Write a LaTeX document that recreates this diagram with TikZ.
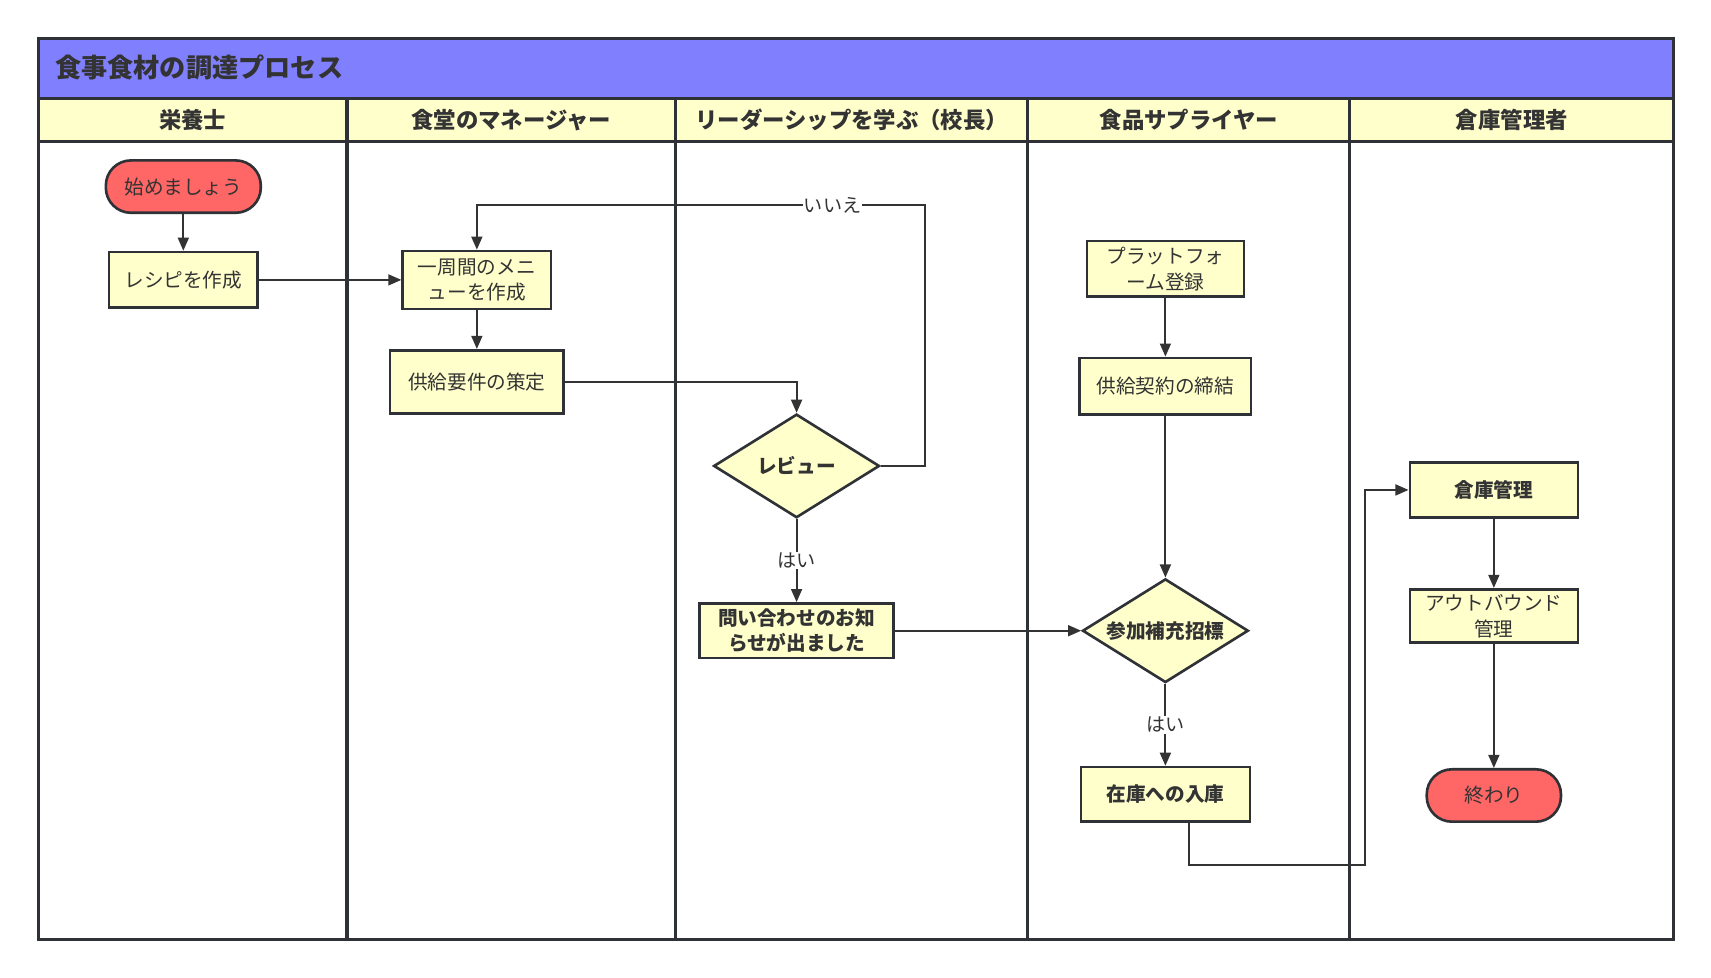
\documentclass[tikz,border=0pt]{standalone}
\usepackage{fontspec}
\setmainfont{Noto Sans CJK JP}
\usetikzlibrary{positioning, arrows.meta, shapes.geometric}
\definecolor{LaneLine}{HTML}{2E3136}
\definecolor{TitleBlue}{HTML}{8080FF}
\definecolor{PaleYellow}{HTML}{FFFFCC}
\definecolor{StartRed}{HTML}{FF6666}
\definecolor{InkGray}{HTML}{333333}

\begin{document}
\begin{tikzpicture}[
    x=1pt, y=-1pt,
    lane/.style={LaneLine, line width=2.8pt},
    task/.style={draw=LaneLine, fill=PaleYellow, line width=2.4pt, align=center, inner sep=2pt, text=InkGray, font=\fontsize{18}{23.5}\selectfont},
    keytask/.style={task, font=\bfseries\fontsize{18}{23.5}\selectfont},
    terminal/.style={task, fill=StartRed, rounded corners=23pt},
    decision/.style={keytask, diamond, aspect=1.6, inner sep=0pt, minimum width=152pt, minimum height=95pt},
    flow/.style={InkGray, line width=1.8pt, -{Triangle[length=12pt, width=10pt]}},
    lbl/.style={fill=white, inner sep=1pt, text=InkGray, font=\fontsize{17.5}{20}\selectfont},
    head/.style={text=InkGray, font=\bfseries\fontsize{20.5}{23}\selectfont}
]
  \useasboundingbox (0,0) rectangle (1568,896);
  % Pool and lanes
  \fill[TitleBlue] (35,35) rectangle (1534,90);
  \fill[PaleYellow] (35,90) rectangle (1534,130);
  \draw[lane] (35,35) rectangle (1534,861);
  \draw[lane] (35,90) -- (1534,90);
  \draw[lane] (35,130) -- (1534,130);
  \foreach \lx in {318,619,942,1237}
    \draw[lane] (\lx,90) -- (\lx,861);
  \node[anchor=west, text=InkGray, font=\bfseries\fontsize{24}{27}\selectfont] (title) at (47,62) {食事食材の調達プロセス};
  \node[head] (h1) at (176.5,110) {栄養士};
  \node[head] (h2) at (468.5,110) {食堂のマネージャー};
  \node[head] (h3) at (780.5,110) {リーダーシップを学ぶ（校長）};
  \node[head] (h4) at (1089.5,110) {食品サプライヤー};
  \node[head] (h5) at (1385.5,110) {倉庫管理者};
  % Steps
  \node[terminal, minimum width=142pt, minimum height=48pt] (start) at (168,171) {始めましょう};
  \node[task, minimum width=136pt, minimum height=51pt] (recipe) at (168,256.5) {レシピを作成};
  \node[task, minimum width=136pt, minimum height=53pt] (menu) at (437,256.5) {一周間のメニ\\ューを作成};
  \node[task, minimum width=159pt, minimum height=58pt] (req) at (437,350) {供給要件の策定};
  \node[decision] (review) at (730,427) {レビュー};
  \node[keytask, minimum width=178pt, minimum height=50pt] (notice) at (730,578) {問い合わせのお知\\らせが出ました};
  \node[task, minimum width=144pt, minimum height=51pt] (platform) at (1068,246.5) {プラットフォ\\ーム登録};
  \node[task, minimum width=157pt, minimum height=52pt] (contract) at (1068,354) {供給契約の締結};
  \node[decision] (bid) at (1068,578) {参加補充招標};
  \node[keytask, minimum width=155pt, minimum height=50pt] (stockin) at (1068,728) {在庫への入庫};
  \node[keytask, minimum width=154pt, minimum height=50pt] (warehouse) at (1369,449) {倉庫管理};
  \node[task, minimum width=154pt, minimum height=49pt] (outbound) at (1369,564.5) {アウトバウンド\\管理};
  \node[terminal, minimum width=123pt, minimum height=48pt] (end) at (1369,729) {終わり};
  % Bends
  \coordinate (noturn) at (848,188);
  \coordinate (detour) at (1251,793);
  % Connectors
  \draw[flow] (start) -- (recipe);
  \draw[flow] (recipe) -- (menu);
  \draw[flow] (menu) -- (req);
  \draw[flow] (req.east) -| (review.north);
  \draw[flow] (review.east) -| (noturn) -| (menu.north);
  \node[lbl] (nolbl) at (763,188) {いいえ};
  \draw[flow] (review) -- node[lbl] (yes1) {はい} (notice);
  \draw[flow] (notice) -- (bid);
  \draw[flow] (platform) -- (contract);
  \draw[flow] (contract) -- (bid);
  \draw[flow] (bid) -- node[lbl] (yes2) {はい} (stockin);
  \draw[flow] ([xshift=22pt]stockin.south) |- (detour) |- (warehouse.west);
  \draw[flow] (warehouse) -- (outbound);
  \draw[flow] (outbound) -- (end);
\end{tikzpicture}
\end{document}
